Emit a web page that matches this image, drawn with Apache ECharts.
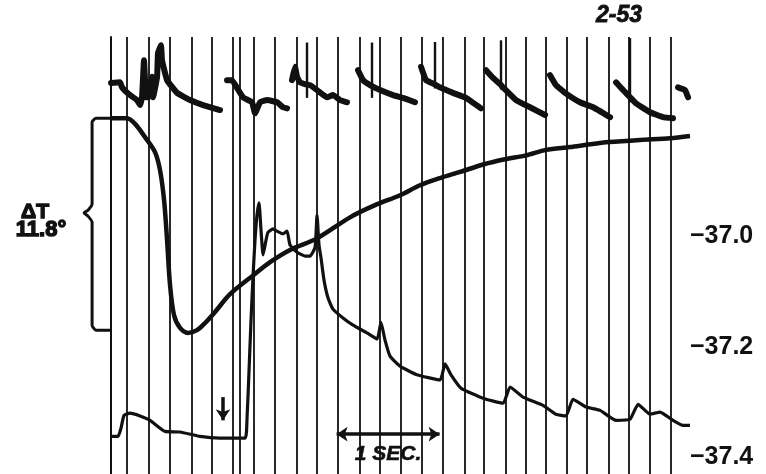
<html>
<head>
<meta charset="UTF-8">
<script src="https://cdn.jsdelivr.net/npm/echarts@6/dist/echarts.min.js"></script>
<style>
  html, body { margin: 0; padding: 0; background: #fff; }
  #chart { width: 766px; height: 474px; }
</style>
</head>
<body>
<div id="chart"></div>
<script>
// time in seconds from the start of the record, temperature in degrees (right scale)
const timeLines = [0, 0.155, 0.369, 0.573, 0.777, 0.981, 1.175, 1.252, 1.388, 1.592, 1.796, 2.000,
  2.204, 2.408, 2.612, 2.806, 3.019, 3.223, 3.427, 3.621, 3.825, 4.029, 4.223, 4.417, 4.621,
  4.835, 5.029, 5.233, 5.427];

const tempTicks = [-37.0, -37.2, -37.4];

// thick rising curve
const tempRise = [[0, -36.787], [0.155, -36.787], [0.233, -36.797], [0.330, -36.821], [0.427, -36.848],
  [0.476, -36.881], [0.515, -36.935], [0.544, -37.007], [0.573, -37.089], [0.612, -37.143],
  [0.670, -37.166], [0.748, -37.175], [0.835, -37.170], [0.913, -37.157], [1.010, -37.137],
  [1.155, -37.105], [1.379, -37.071], [1.544, -37.047], [1.738, -37.025], [2.000, -37.004],
  [2.320, -36.966], [2.563, -36.944], [2.806, -36.926], [3.000, -36.908], [3.194, -36.895],
  [3.388, -36.884], [3.621, -36.870], [3.825, -36.861], [4.029, -36.854], [4.223, -36.844],
  [4.456, -36.839], [4.650, -36.834], [4.835, -36.830], [5.136, -36.826], [5.427, -36.823],
  [5.621, -36.819]];

// lower trace
const lowerTrace = [[0, -37.362], [0.068, -37.362], [0.097, -37.347], [0.126, -37.324], [0.184, -37.320],
  [0.282, -37.325], [0.379, -37.333], [0.524, -37.353], [0.670, -37.354], [0.864, -37.362],
  [1.058, -37.365], [1.301, -37.365], [1.320, -37.331], [1.340, -37.242], [1.359, -37.152],
  [1.379, -37.071], [1.398, -37.007], [1.417, -36.962], [1.437, -36.940], [1.456, -36.989],
  [1.476, -37.034], [1.505, -37.007], [1.524, -36.993], [1.573, -36.987], [1.612, -36.991],
  [1.670, -36.996], [1.709, -36.991], [1.738, -37.016], [1.806, -37.029], [1.883, -37.036],
  [1.932, -37.036], [1.981, -37.020], [2.000, -36.962], [2.019, -37.016], [2.039, -37.040],
  [2.068, -37.080], [2.107, -37.112], [2.155, -37.132], [2.252, -37.148], [2.350, -37.161],
  [2.485, -37.175], [2.583, -37.186], [2.621, -37.156], [2.660, -37.188], [2.709, -37.217],
  [2.806, -37.235], [2.961, -37.250], [3.194, -37.260], [3.243, -37.231], [3.301, -37.251],
  [3.398, -37.275], [3.612, -37.293], [3.806, -37.302], [3.874, -37.273], [4.000, -37.291],
  [4.194, -37.306], [4.320, -37.322], [4.417, -37.325], [4.485, -37.295], [4.612, -37.309],
  [4.748, -37.315], [4.903, -37.333], [5.039, -37.331], [5.117, -37.304], [5.233, -37.322],
  [5.330, -37.318], [5.456, -37.333], [5.553, -37.342], [5.621, -37.342]];

// top trace, one array per beat
const beats = [
  [[0, -36.723], [0.087, -36.722], [0.107, -36.731], [0.184, -36.745], [0.252, -36.754], [0.282, -36.763],
   [0.301, -36.749], [0.320, -36.682], [0.340, -36.749], [0.359, -36.749], [0.379, -36.740],
   [0.398, -36.712], [0.408, -36.749], [0.447, -36.712], [0.456, -36.669], [0.485, -36.655],
   [0.495, -36.682], [0.544, -36.718], [0.641, -36.741], [0.767, -36.754], [0.893, -36.763], [1.058, -36.772]],
  [[1.126, -36.718], [1.175, -36.718], [1.223, -36.732], [1.282, -36.749], [1.369, -36.758], [1.398, -36.778],
   [1.447, -36.758], [1.515, -36.754], [1.612, -36.758], [1.670, -36.767], [1.709, -36.769]],
  [[1.757, -36.718], [1.786, -36.694], [1.806, -36.712], [1.835, -36.722], [1.883, -36.725],
   [1.932, -36.727], [2.000, -36.736], [2.097, -36.749], [2.155, -36.745],
   [2.223, -36.754], [2.291, -36.758]],
  [[2.398, -36.700], [2.447, -36.718], [2.515, -36.727],
   [2.612, -36.736], [2.738, -36.745], [2.835, -36.750], [2.951, -36.758]],
  [[3.010, -36.694], [3.058, -36.718], [3.136, -36.725], [3.194, -36.731],
   [3.320, -36.741], [3.447, -36.750], [3.592, -36.769]],
  [[3.641, -36.700], [3.709, -36.714], [3.777, -36.725], [3.806, -36.731],
   [3.932, -36.754], [4.068, -36.767], [4.214, -36.781]],
  [[4.262, -36.709], [4.320, -36.727], [4.408, -36.741], [4.553, -36.758], [4.680, -36.767], [4.845, -36.785]],
  [[4.903, -36.722], [4.971, -36.736], [5.019, -36.745], [5.039, -36.749], [5.097, -36.760],
   [5.233, -36.776], [5.359, -36.785], [5.456, -36.787]],
  [[5.505, -36.731], [5.573, -36.736], [5.602, -36.749]]
];

// thin marks standing above the top trace: [time, top, bottom]
const markSpikes = [[1.903, -36.650, -36.750], [2.534, -36.650, -36.750], [3.146, -36.649, -36.733],
  [3.786, -36.646, -36.735], [5.039, -36.642, -36.758]];

// brace spanning the drop of the upper curve
const brace = [[0, -36.787], [-0.146, -36.787], [-0.184, -36.794], [-0.184, -36.942], [-0.223, -36.953],
  [-0.262, -36.958], [-0.223, -36.964], [-0.184, -36.975], [-0.184, -37.161], [-0.146, -37.170], [0, -37.170]];

const stimulusTime = 1.087;
const stimulusArrow = [-37.291, -37.333];
const scaleBar = { start: 2.19, length: 1, level: -37.358 };

const ink = '#111';
const font = 'Liberation Sans';
const chart = echarts.init(document.getElementById('chart'));

const spikeLines = markSpikes.map(s => [
  { coord: [s[0], s[1]], symbol: 'none', lineStyle: { width: 2.4 } },
  { coord: [s[0], s[2]], symbol: 'none' }
]);

const series = [
  {
    type: 'line', data: [], silent: true,
    markLine: {
      silent: true, symbol: 'none', animation: false,
      label: { show: false },
      lineStyle: { type: 'solid', color: ink, width: 1.8 },
      data: timeLines.map(t => ({ xAxis: t }))
    }
  },
  {
    type: 'line', data: brace, showSymbol: false, smooth: 0.2,
    lineStyle: { color: ink, width: 3 }
  },
  {
    type: 'line', data: tempRise, showSymbol: false, smooth: 0.3,
    lineStyle: { color: ink, width: 4.5 }
  },
  {
    type: 'line', data: lowerTrace, showSymbol: false, smooth: 0.15,
    lineStyle: { color: ink, width: 3.2 },
    markLine: {
      silent: true, animation: false,
      label: { show: false },
      lineStyle: { type: 'solid', color: ink, width: 3.5 },
      symbolSize: 11,
      data: [
        [{ coord: [stimulusTime, stimulusArrow[0]], symbol: 'none' },
         { coord: [stimulusTime, stimulusArrow[1]], symbol: 'arrow' }],
        [{ coord: [scaleBar.start, scaleBar.level], symbol: 'arrow' },
         { coord: [scaleBar.start + scaleBar.length, scaleBar.level], symbol: 'arrow' }]
      ].concat(spikeLines)
    }
  }
];
beats.forEach(b => series.push({
  type: 'line', data: b, showSymbol: false, smooth: 0.1,
  lineStyle: { color: ink, width: 6, cap: 'round', join: 'round' }
}));

chart.setOption({
  animation: false,
  backgroundColor: '#fff',
  grid: { left: 0, right: 76, top: 37, bottom: 0, containLabel: false, outerBoundsMode: 'none' },
  xAxis: {
    type: 'value', min: -1.078, max: 5.621, show: false
  },
  yAxis: {
    type: 'value', position: 'right', min: -37.430, max: -36.640,
    splitLine: { show: false },
    axisLine: { show: true, lineStyle: { color: ink, width: 2 } },
    axisTick: { show: false },
    axisLabel: {
      customValues: tempTicks,
      margin: 0,
      color: ink,
      fontFamily: font,
      fontWeight: 'bold',
      fontSize: 25,
      formatter: v => v.toFixed(1).replace('-', '\u2212')
    }
  },
  graphic: [
    { type: 'text', x: 619, y: 16, style: { text: '2-53', align: 'center', verticalAlign: 'middle', fontFamily: font, fontWeight: 'bold', fontStyle: 'italic', fontSize: 23, fill: ink, stroke: ink, lineWidth: 0.8 } },
    { type: 'text', x: 35, y: 212, style: { text: '\u0394T', align: 'center', verticalAlign: 'middle', fontFamily: font, fontWeight: 'bold', fontSize: 21, fill: ink, stroke: ink, lineWidth: 1.4 } },
    { type: 'text', x: 41, y: 230, style: { text: '11.8\u00B0', align: 'center', verticalAlign: 'middle', fontFamily: font, fontWeight: 'bold', fontSize: 22, fill: ink, stroke: ink, lineWidth: 1.4 } },
    { type: 'text', x: 388, y: 454, style: { text: '1 SEC.', align: 'center', verticalAlign: 'middle', fontFamily: font, fontWeight: 'bold', fontStyle: 'italic', fontSize: 21, fill: ink, stroke: ink, lineWidth: 0.6 } }
  ],
  series: series
});
</script>
</body>
</html>
